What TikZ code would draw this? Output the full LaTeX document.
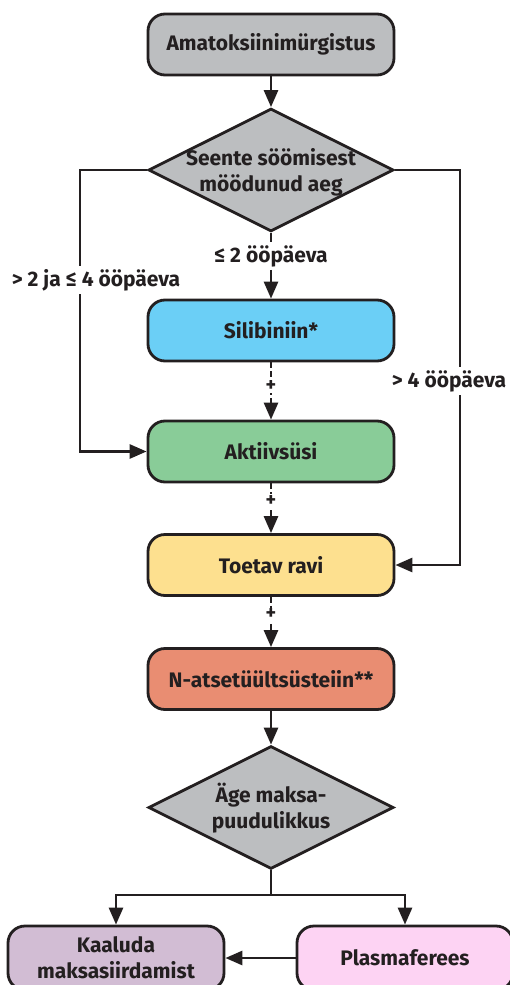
\documentclass[tikz,border=0pt]{standalone}
\usepackage{fontspec}
\setmainfont{Fira Sans}
\usetikzlibrary{shapes.geometric,arrows.meta}
\definecolor{ink}{HTML}{231F20}
\definecolor{cgray}{HTML}{BCBEC0}
\definecolor{cblue}{HTML}{6BCFF6}
\definecolor{cgreen}{HTML}{89CC98}
\definecolor{cyellow}{HTML}{FDE08F}
\definecolor{cred}{HTML}{E98D72}
\definecolor{cpurple}{HTML}{D2BDD4}
\definecolor{cpink}{HTML}{FDD3F3}
\begin{document}
\begin{tikzpicture}[x=1pt,y=-1pt,
  every node/.style={text=ink,font=\bfseries\fontsize{21}{26}\selectfont},
  box/.style={draw=ink,line width=2.8pt,rounded corners=17pt,minimum width=246pt,minimum height=61pt,inner sep=0pt,align=center},
  sbox/.style={box,minimum width=216pt,minimum height=64pt},
  dia/.style={draw=ink,line width=2.8pt,diamond,fill=cgray,minimum width=245pt,minimum height=123pt,inner sep=0pt},
  dtxt/.style={align=center,inner sep=0pt},
  lab/.style={fill=white,inner sep=3pt},
  plus/.style={fill=white,inner sep=1pt,font=\bfseries\fontsize{20}{20}\selectfont},
  arr/.style={draw=ink,line width=2.8pt,-{Triangle[length=17pt,width=14pt]}},
  ln/.style={draw=ink,line width=2.8pt},
  darr/.style={arr,dash pattern=on 6pt off 3pt}]
\useasboundingbox (0,0) rectangle (509,985);

\node[box,fill=cgray] (a) at (271,44.5) {Amatoksiinimürgistus};
\node[dia] (d1) at (271,170) {};
\node[dtxt] (d1t) at (271,172) {Seente söömisest\\möödunud aeg};
\node[box,fill=cblue] (s) at (271,330.5) {Silibiniin*};
\node[box,fill=cgreen] (k) at (271,451.5) {Aktiivsüsi};
\node[box,fill=cyellow] (t) at (271,565) {Toetav ravi};
\node[box,fill=cred] (n) at (271,679) {N-atsetüültsüsteiin**};
\node[dia] (d2) at (271,807.5) {};
\node[dtxt] (d2t) at (271,808) {Äge maksa-\\puudulikkus};
\node[sbox,fill=cpurple] (kl) at (116,958) {Kaaluda\\maksasiirdamist};
\node[sbox,fill=cpink] (p) at (405,958) {Plasmaferees};

\coordinate (L) at (80,170);
\coordinate (R) at (460,170);
\coordinate (B) at (271,895);

\draw[arr] (a.south) -- (d1.north);
\node[lab] (l1) at (271,256) {≤ 2 ööpäeva};
\draw[ln] (d1.south) -- (l1.north);
\draw[arr] (l1.south) -- (s.north);
\draw[arr] (d1.west) -- (L) |- (k.west);
\draw[arr] (d1.east) -- (R) |- (t.east);
\node[lab] (l2) at (96,280) {> 2 ja ≤ 4 ööpäeva};
\node[lab] (l3) at (449,381) {> 4 ööpäeva};
\draw[darr] (s.south) -- node[plus,pos=0.42] {+} (k.north);
\draw[darr] (k.south) -- node[plus,pos=0.35] {+} (t.north);
\draw[darr] (t.south) -- node[plus,pos=0.35] {+} (n.north);
\draw[arr] (n.south) -- (d2.north);
\draw[ln] (d2.south) -- (B);
\draw[arr] (B) -| (kl.north);
\draw[arr] (B) -| (p.north);
\draw[arr] (p.west) -- (kl.east);
\end{tikzpicture}
\end{document}
